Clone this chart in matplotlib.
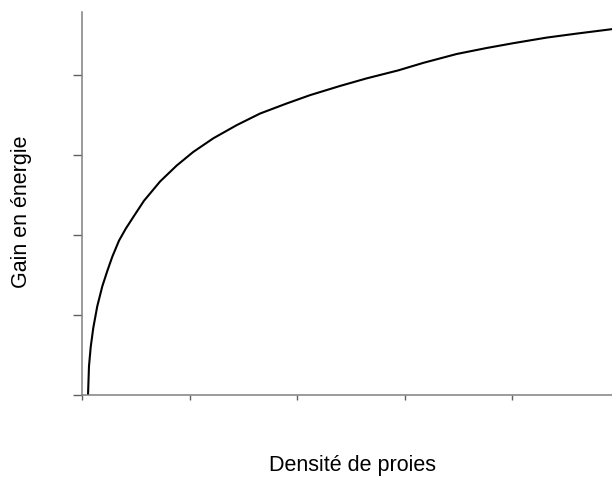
import matplotlib
matplotlib.use("Agg")
import matplotlib.pyplot as plt

# Data (density of prey vs energy gain)
density = [0.056, 0.065, 0.081, 0.105, 0.142, 0.189, 0.235, 0.282, 0.344, 0.407,
           0.484, 0.577, 0.726, 0.881, 1.035, 1.221, 1.439, 1.656, 1.904, 2.121,
           2.40, 2.648, 2.942, 3.175, 3.486, 3.765, 4.012, 4.323, 4.602, 4.927]
gain = [0.0, 0.36, 0.60, 0.84, 1.11, 1.36, 1.55, 1.73, 1.93, 2.08,
        2.24, 2.43, 2.67, 2.87, 3.04, 3.21, 3.375, 3.52, 3.646, 3.75,
        3.865, 3.96, 4.06, 4.154, 4.265, 4.34, 4.40, 4.47, 4.52, 4.575]
x_ticks = [0, 1, 2, 3, 4]
y_ticks = [0, 1, 2, 3, 4]
x_label = "Densité de proies"
y_label = "Gain en énergie"

plt.rcParams['font.family'] = ['Liberation Sans', 'DejaVu Sans']

W, H = 612, 478
fig = plt.figure(figsize=(W / 100, H / 100), dpi=100)
ax = fig.add_axes([82 / W, (H - 395) / H, (612 - 82) / W, (395 - 12) / H])

ax.plot(density, gain, color='black', lw=1.5, solid_joinstyle='round')

ax.set_xlim(0, 4.93)
ax.set_ylim(0, 4.79)
ax.set_xticks(x_ticks)
ax.set_yticks(y_ticks)
ax.set_xticklabels([])
ax.set_yticklabels([])

for s in ['top', 'right']:
    ax.spines[s].set_visible(False)
for s in ['left', 'bottom']:
    ax.spines[s].set_color('#808080')
    ax.spines[s].set_linewidth(1.1)
ax.tick_params(axis='y', length=6.5, width=1.0, color='#606060')
ax.tick_params(axis='x', length=3.5, width=1.0, color='#606060')

fig.text(353 / W, 1 - 466 / H, x_label, ha='center', va='center', fontsize=15.5)
fig.text(21 / W, 1 - 212 / H, y_label, ha='center', va='center', rotation=90, fontsize=15.5)

fig.savefig("out.png", dpi=100)
